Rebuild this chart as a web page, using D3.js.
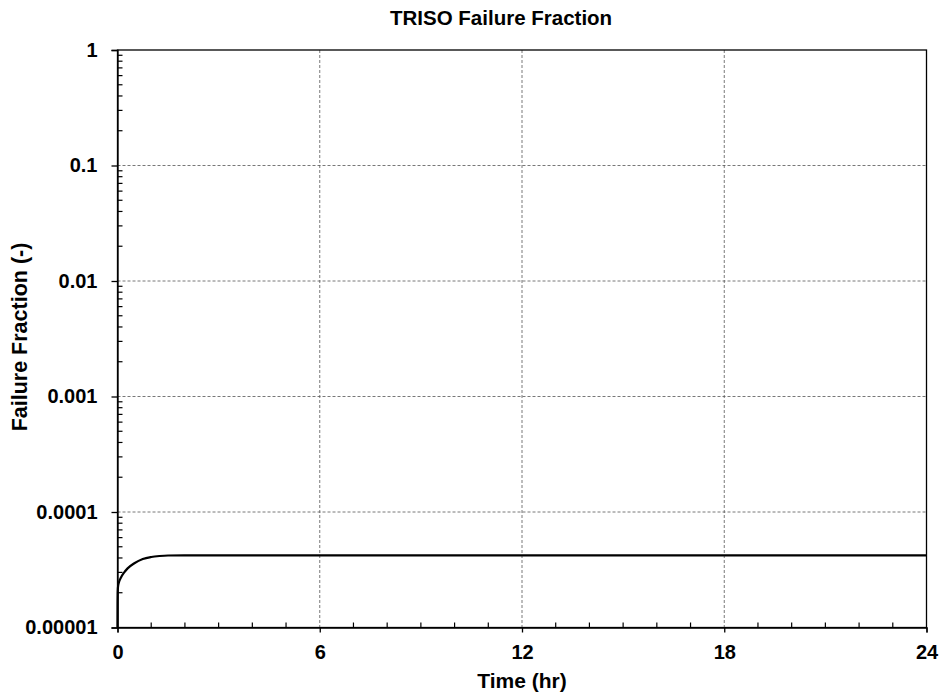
<!DOCTYPE html>
<html>
<head>
<meta charset="utf-8">
<script src="https://cdn.jsdelivr.net/npm/d3@7"></script>
<style>
  body { margin: 0; background: #fff; }
  svg { display: block; font-family: "Liberation Sans", Arial, sans-serif; }
</style>
</head>
<body>
<svg id="chart" width="943" height="696"></svg>
<script>
// Data
const timeHr = [0, 0.002, 0.005, 0.01, 0.02, 0.05, 0.1, 0.2, 0.3, 0.5, 0.75, 1.0, 1.25, 1.5, 2, 3, 6, 12, 18, 24];
const failFrac = [1.0e-5, 1.6e-5, 1.9e-5, 2.15e-5, 2.3e-5, 2.5e-5, 2.7e-5, 3.0e-5, 3.25e-5, 3.6e-5, 3.92e-5, 4.08e-5, 4.16e-5, 4.2e-5, 4.21e-5, 4.21e-5, 4.21e-5, 4.21e-5, 4.21e-5, 4.21e-5];
const xTicks = [0, 6, 12, 18, 24];
const yTicks = [1e-5, 1e-4, 1e-3, 1e-2, 1e-1, 1];
const yTickLabels = ["0.00001", "0.0001", "0.001", "0.01", "0.1", "1"];
const titleText = "TRISO Failure Fraction";
const xTitle = "Time (hr)";
const yTitle = "Failure Fraction (-)";

const svg = d3.select("#chart");
const m = { left: 117.5, right: 926.5, top: 50, bottom: 627.5 };

const x = d3.scaleLinear().domain([0, 24]).range([m.left, m.right]);
const y = d3.scaleLog().domain([1e-5, 1]).range([m.bottom, m.top]);

// Grid
const grid = svg.append("g");
grid.selectAll("line.gx").data(xTicks.slice(1, -1)).enter().append("line")
  .attr("x1", d => x(d)).attr("x2", d => x(d))
  .attr("y1", m.top).attr("y2", m.bottom)
  .attr("stroke", "#555").attr("stroke-width", 0.8).attr("stroke-dasharray", "3,2");
grid.selectAll("line.gy").data(yTicks.slice(1, -1)).enter().append("line")
  .attr("y1", d => y(d)).attr("y2", d => y(d))
  .attr("x1", m.left).attr("x2", m.right)
  .attr("stroke", "#555").attr("stroke-width", 0.8).attr("stroke-dasharray", "3,2");

// Minor ticks
const minorX = d3.range(1, 24).filter(d => d % 6 !== 0);
svg.append("g").selectAll("line").data(minorX).enter().append("line")
  .attr("x1", d => x(d)).attr("x2", d => x(d))
  .attr("y1", m.bottom).attr("y2", m.bottom - 5)
  .attr("stroke", "#000").attr("stroke-width", 1.2);
const minorY = [];
for (let e = -5; e < 0; e++) for (let k = 2; k <= 9; k++) minorY.push(k * Math.pow(10, e));
svg.append("g").selectAll("line").data(minorY).enter().append("line")
  .attr("y1", d => y(d)).attr("y2", d => y(d))
  .attr("x1", m.left).attr("x2", m.left + 5)
  .attr("stroke", "#000").attr("stroke-width", 1.2);

// Frame
svg.append("rect").attr("x", m.left).attr("y", m.top)
  .attr("width", m.right - m.left).attr("height", m.bottom - m.top)
  .attr("fill", "none").attr("stroke", "#000").attr("stroke-width", 1.3);

// Axes
const xAxis = d3.axisBottom(x).tickValues(xTicks).tickSize(5).tickPadding(12).tickFormat(d3.format("d"));
const gx = svg.append("g").attr("transform", `translate(0,${m.bottom})`).call(xAxis);
gx.select(".domain").attr("stroke-width", 1.3);
gx.selectAll(".tick line").attr("stroke-width", 1.3);
gx.selectAll("text").attr("font-size", 20).attr("font-weight", "bold").attr("fill", "#000")
  .attr("font-family", "'Liberation Sans', Arial, sans-serif");

const yAxis = d3.axisLeft(y).tickValues(yTicks).tickSize(6).tickPadding(14)
  .tickFormat((d, i) => yTickLabels[i]);
const gy = svg.append("g").attr("transform", `translate(${m.left},0)`).call(yAxis);
gy.select(".domain").attr("stroke-width", 1.3);
gy.selectAll(".tick line").attr("stroke-width", 1.3);
gy.selectAll("text").attr("font-size", 20).attr("font-weight", "bold").attr("fill", "#000")
  .attr("font-family", "'Liberation Sans', Arial, sans-serif");

// Line
const line = d3.line().x(d => x(d[0])).y(d => y(d[1])).curve(d3.curveMonotoneX);
svg.append("path").datum(timeHr.map((t, i) => [t, failFrac[i]]))
  .attr("d", line).attr("fill", "none").attr("stroke", "#000").attr("stroke-width", 2.2);

// Titles
svg.append("text").attr("x", 390).attr("y", 25)
  .attr("text-anchor", "start").attr("font-size", 20.5).attr("font-weight", "bold").text(titleText);
svg.append("text").attr("x", (m.left + m.right) / 2).attr("y", 688)
  .attr("text-anchor", "middle").attr("font-size", 21).attr("font-weight", "bold").text(xTitle);
svg.append("text").attr("transform", `translate(27,337) rotate(-90)`)
  .attr("text-anchor", "middle").attr("font-size", 21.5).attr("font-weight", "bold").text(yTitle);
</script>
</body>
</html>
